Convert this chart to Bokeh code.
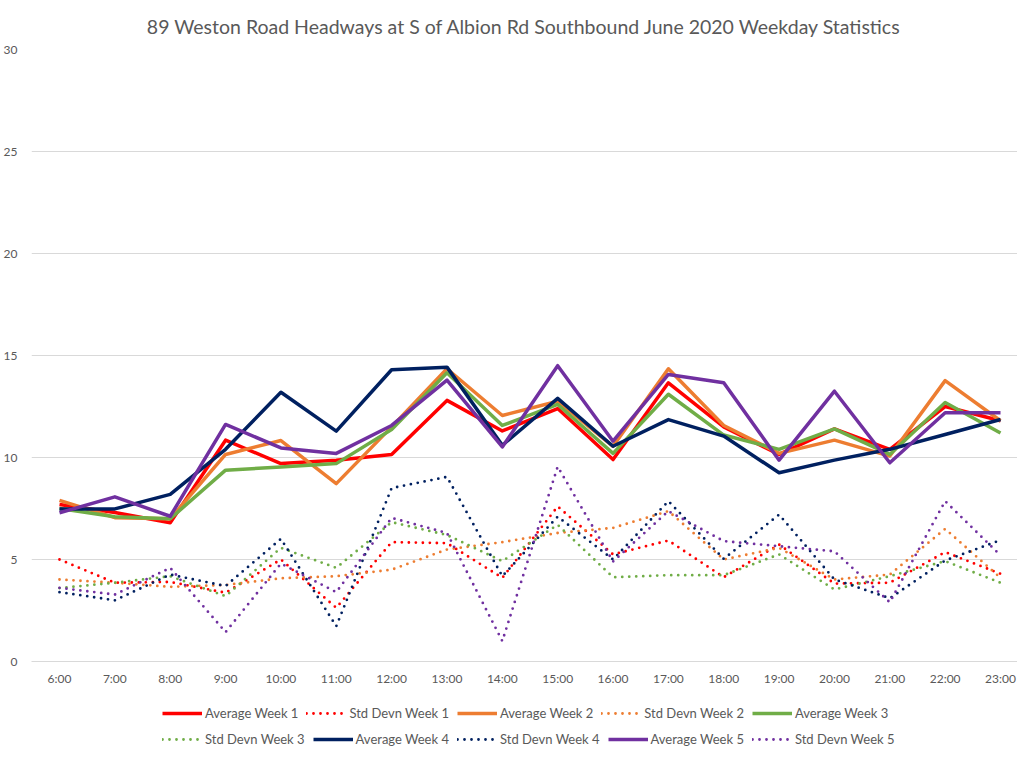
from bokeh.plotting import figure
from bokeh.layouts import column
from bokeh.models import Range1d, FixedTicker, Legend, LegendItem
from bokeh.embed import file_html
from bokeh.resources import INLINE

hours = ["6:00", "7:00", "8:00", "9:00", "10:00", "11:00", "12:00", "13:00", "14:00",
         "15:00", "16:00", "17:00", "18:00", "19:00", "20:00", "21:00", "22:00", "23:00"]

avg_w1 = [7.7, 7.3, 6.8, 10.85, 9.7, 9.87, 10.15, 12.8, 11.3, 12.4, 9.9, 13.66, 11.5, 10.15, 11.4, 10.4, 12.5, 11.8]
sd_w1 = [5.0, 3.86, 3.9, 3.37, 5.0, 2.63, 5.85, 5.8, 4.1, 7.6, 5.25, 5.93, 4.13, 5.73, 3.82, 3.86, 5.36, 4.3]
avg_w2 = [7.9, 7.05, 7.0, 10.15, 10.83, 8.72, 11.5, 14.35, 12.06, 12.76, 10.55, 14.35, 11.57, 10.2, 10.85, 10.07, 13.77, 11.8]
sd_w2 = [4.02, 3.86, 3.66, 3.75, 4.08, 4.18, 4.5, 5.49, 5.85, 6.3, 6.55, 7.37, 5.0, 5.57, 4.02, 4.26, 6.5, 4.1]
avg_w3 = [7.5, 7.1, 7.0, 9.38, 9.53, 9.7, 11.37, 14.15, 11.57, 12.6, 10.2, 13.1, 11.1, 10.4, 11.4, 10.15, 12.7, 11.2]
sd_w3 = [3.6, 3.86, 4.18, 3.2, 5.57, 4.59, 6.83, 6.2, 4.92, 6.7, 4.13, 4.23, 4.23, 5.25, 3.53, 4.18, 4.92, 3.86]
avg_w4 = [7.48, 7.48, 8.19, 10.4, 13.2, 11.29, 14.3, 14.43, 10.6, 12.9, 10.55, 11.86, 11.05, 9.25, 9.87, 10.4, 11.13, 11.86]
sd_w4 = [3.4, 3.0, 4.26, 3.7, 6.01, 1.73, 8.5, 9.05, 4.18, 7.1, 5.0, 7.86, 5.03, 7.2, 4.02, 3.1, 4.95, 5.95]
avg_w5 = [7.29, 8.07, 7.12, 11.62, 10.47, 10.2, 11.57, 13.79, 10.52, 14.5, 10.8, 14.07, 13.66, 9.87, 13.25, 9.74, 12.19, 12.19]
sd_w5 = [3.61, 3.28, 4.59, 1.44, 4.8, 3.4, 7.04, 6.3, 1.0, 9.55, 4.9, 7.37, 5.9, 5.65, 5.4, 2.9, 7.86, 5.2]

series = [
    ("Average Week 1", avg_w1, "#FF0000", False),
    ("Std Devn Week 1", sd_w1, "#FF0000", True),
    ("Average Week 2", avg_w2, "#ED7D31", False),
    ("Std Devn Week 2", sd_w2, "#ED7D31", True),
    ("Average Week 3", avg_w3, "#70AD47", False),
    ("Std Devn Week 3", sd_w3, "#70AD47", True),
    ("Average Week 4", avg_w4, "#002060", False),
    ("Std Devn Week 4", sd_w4, "#002060", True),
    ("Average Week 5", avg_w5, "#7030A0", False),
    ("Std Devn Week 5", sd_w5, "#7030A0", True),
]

FONT = "Lato"
GREY = "#595959"

x = list(range(len(hours)))

p = figure(frame_width=986, frame_height=612,
           x_range=Range1d(-0.506, 17.307), y_range=Range1d(0, 30),
           output_backend="svg", toolbar_location=None,
           min_border_left=22, min_border_right=0, min_border_top=49, min_border_bottom=37,
           title="89 Weston Road Headways at S of Albion Rd Southbound June 2020 Weekday Statistics")

p.title.align = "center"
p.title.text_font = FONT
p.title.text_font_size = "19.5px"
p.title.text_font_style = "normal"
p.title.text_color = GREY
p.title.standoff = 24

p.outline_line_color = None
p.background_fill_color = "white"
p.border_fill_color = "white"

p.xgrid.grid_line_color = None
p.ygrid.grid_line_color = "#D9D9D9"
p.ygrid.grid_line_width = 1

p.yaxis.ticker = FixedTicker(ticks=[0, 5, 10, 15, 20, 25, 30])
p.yaxis.axis_line_color = None
p.yaxis.major_tick_line_color = None
p.yaxis.minor_tick_line_color = None
p.yaxis.major_label_standoff = 8
p.yaxis.major_label_text_font = FONT
p.yaxis.major_label_text_font_size = "12px"
p.yaxis.major_label_text_color = GREY

p.xaxis.ticker = FixedTicker(ticks=x)
p.xaxis.major_label_overrides = {i: h for i, h in zip(x, hours)}
p.xaxis.axis_line_color = "#D9D9D9"
p.xaxis.major_tick_line_color = None
p.xaxis.minor_tick_line_color = None
p.xaxis.major_label_standoff = 3
p.xaxis.major_label_text_font = FONT
p.xaxis.major_label_text_font_size = "12px"
p.xaxis.major_label_text_color = GREY

# legend strip below the chart: same series, drawn out of view so only the key shows
leg = figure(frame_width=1008, frame_height=52, x_range=Range1d(0, 17), y_range=Range1d(-2, -1),
             x_axis_type=None, y_axis_type=None, output_backend="svg", toolbar_location=None,
             min_border=0)
leg.outline_line_color = None
leg.xgrid.grid_line_color = None
leg.ygrid.grid_line_color = None

items = []
for name, vals, color, dotted in series:
    if dotted:
        style = dict(line_color=color, line_width=2.8, line_dash="0 7", line_cap="round")
    else:
        style = dict(line_color=color, line_width=3.5, line_join="round")
    p.line(x, vals, **style)
    r = leg.line(x, vals, **style)
    items.append(LegendItem(label=name, renderers=[r]))

for chunk, loc in ((items[:5], (162, 29)), (items[5:], (162, 3))):
    lg = Legend(items=chunk, orientation="horizontal", location=loc,
                label_text_font=FONT, label_text_font_size="13px", label_text_color=GREY,
                glyph_width=40, glyph_height=12, label_standoff=3, spacing=8,
                padding=2, margin=0, label_height=12,
                border_line_color=None, background_fill_alpha=0)
    leg.add_layout(lg, "center")

layout = column(p, leg, spacing=0)
open("out.html", "w").write(file_html(layout, INLINE))
